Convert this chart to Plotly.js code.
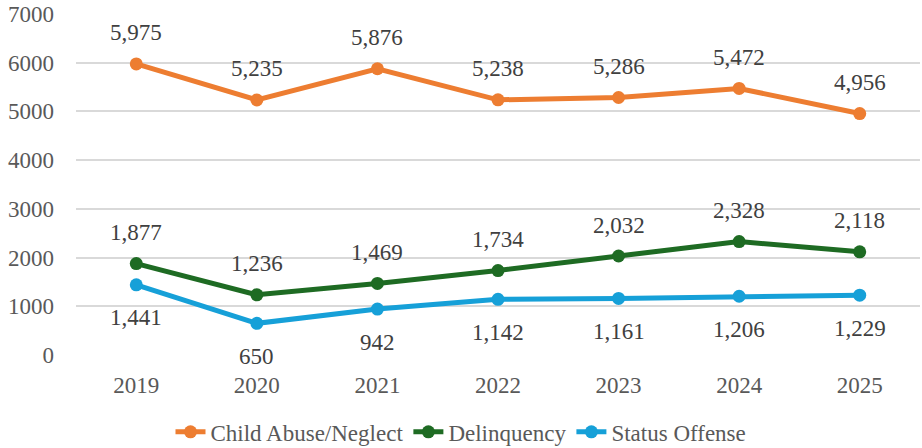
<!DOCTYPE html>
<html><head><meta charset="utf-8">
<script src="https://cdn.plot.ly/plotly-3.0.1.min.js"></script>
<style>html,body{margin:0;padding:0;background:#fff}</style>
</head><body>
<div id="chart" style="width:922px;height:448px"></div>
<script>
const years = ['2019','2020','2021','2022','2023','2024','2025'];
const childAbuse = [5975, 5235, 5876, 5238, 5286, 5472, 4956];
const delinquency = [1877, 1236, 1469, 1734, 2032, 2328, 2118];
const statusOffense = [1441, 650, 942, 1142, 1161, 1206, 1229];
const seriesNames = ['Child Abuse/Neglect', 'Delinquency', 'Status Offense'];
const colors = ['#ED7D31', '#1E6B23', '#16A0D8'];
const allSeries = [childAbuse, delinquency, statusOffense];
const labelShift = [31, 31, -33];

function fmt(v) {
  const s = String(v);
  return s.length > 3 ? s.slice(0, s.length - 3) + ',' + s.slice(s.length - 3) : s;
}

const font = 'Liberation Serif';
function draw() {
  const traces = allSeries.map((vals, i) => ({
    x: years, y: vals, type: 'scatter', mode: 'lines+markers', name: seriesNames[i],
    line: {color: colors[i], width: 5}, marker: {color: colors[i], size: 13}
  }));
  const annotations = [];
  allSeries.forEach((vals, i) => {
    vals.forEach((v, j) => {
      annotations.push({x: j, y: v, xref: 'x', yref: 'y', text: fmt(v),
        showarrow: false, yshift: labelShift[i], font: {family: font, size: 23, color: '#404040'}});
    });
  });
  Plotly.newPlot('chart', traces, {
    width: 922, height: 448,
    margin: {l: 76, r: 2, t: 14, b: 93},
    paper_bgcolor: '#fff', plot_bgcolor: '#fff',
    font: {family: font, size: 23, color: '#595959'},
    xaxis: {type: 'category', range: [-0.5, 6.5], showgrid: false, zeroline: false, showline: false, ticks: '', tickfont: {family: font, size: 23, color: '#595959'}, ticklabelstandoff: 14},
    yaxis: {range: [0, 7000], dtick: 1000, gridcolor: '#d9d9d9', gridwidth: 2, zeroline: false, showline: false, ticks: '', tickfont: {family: font, size: 23, color: '#595959'}, ticklabelstandoff: 21},
    showlegend: true,
    legend: {orientation: 'h', x: 0.5, xref: 'container', xanchor: 'center', y: 0.036, yref: 'container', yanchor: 'middle', font: {family: font, size: 23, color: '#595959'}},
    annotations: annotations
  }, {displayModeBar: false});
}
if (document.fonts && document.fonts.load) {
  document.fonts.load('23px "Liberation Serif"', '0123456789,ChildAbuse').then(draw, draw);
} else {
  draw();
}
</script>
</body></html>
